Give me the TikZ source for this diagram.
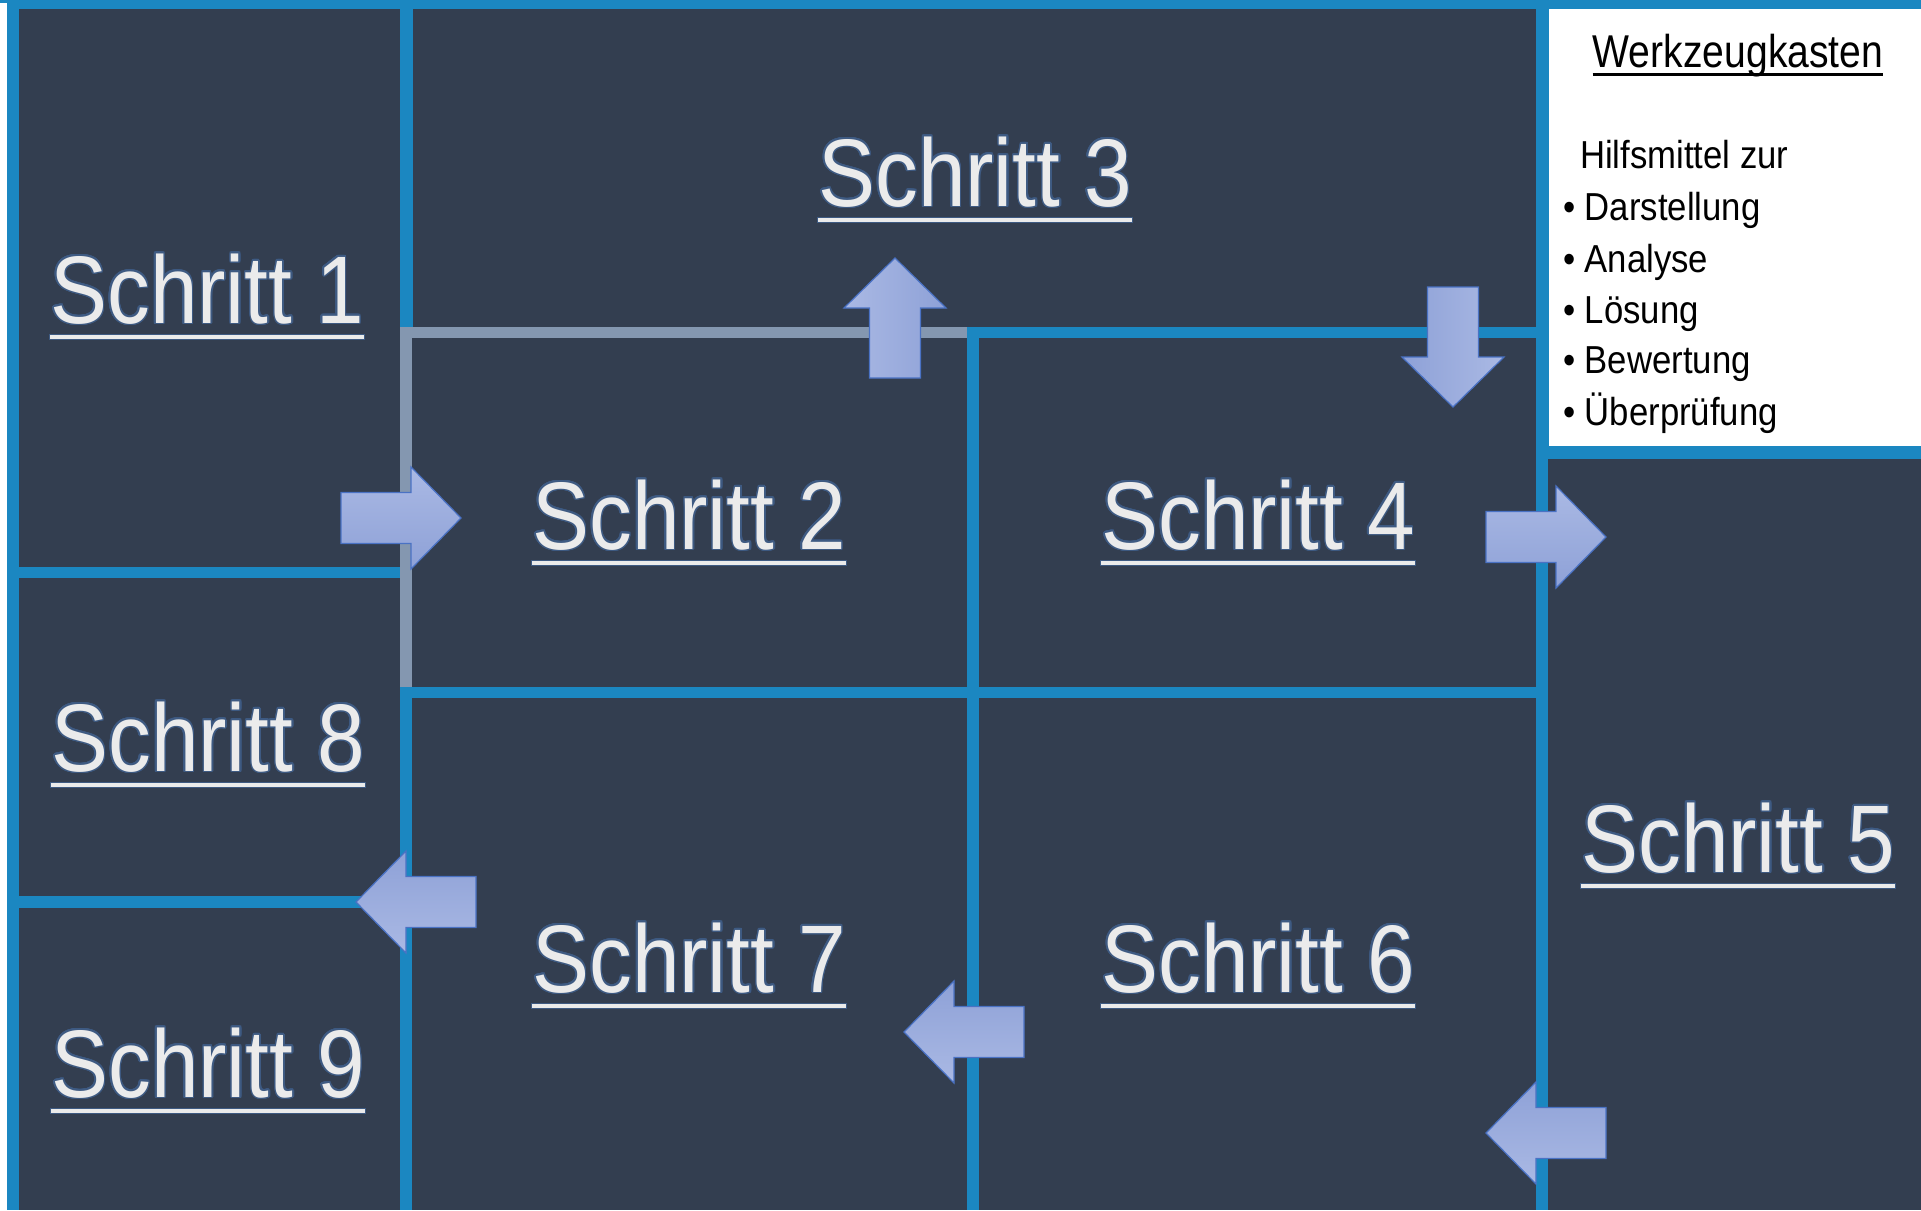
\documentclass[tikz,border=0pt]{standalone}
\usepackage{fontspec}
\usepackage{contour}
\usetikzlibrary{calc}
\newfontfamily\stepfont[FakeStretch=0.89]{Liberation Sans}
\newfontfamily\titlefont[FakeStretch=0.85]{Liberation Sans}
\definecolor{cellbg}{RGB}{51,62,80}
\definecolor{lineblue}{RGB}{27,135,193}
\definecolor{linegray}{RGB}{132,151,176}
\definecolor{textwhite}{RGB}{235,235,235}
\definecolor{textedge}{RGB}{62,90,130}
\definecolor{alight}{RGB}{170,185,228}
\definecolor{adark}{RGB}{142,161,215}
\definecolor{aedge}{RGB}{74,114,196}
\contourlength{1.5pt}
\contournumber{24}
\newcommand{\stepul}[1]{\draw[fill=textwhite, draw=textedge, line width=1pt] ($(#1.base west)+(-1,11)$) rectangle ($(#1.base east)+(1,16)$);}
\newcommand{\arrowR}[2]{\shade[arrowbox, top color=alight, bottom color=adark] (#1,#2) -- ++(-50,-51) -- ++(0,25.5) -- ++(-70,0) -- ++(0,51) -- ++(70,0) -- ++(0,25.5) -- cycle;}
\newcommand{\arrowL}[2]{\shade[arrowbox, top color=adark, bottom color=alight] (#1,#2) -- ++(50,-51) -- ++(0,25.5) -- ++(70,0) -- ++(0,51) -- ++(-70,0) -- ++(0,25.5) -- cycle;}
\newcommand{\arrowU}[2]{\shade[arrowbox, left color=alight, right color=adark] (#1,#2) -- ++(-51,50) -- ++(25.5,0) -- ++(0,70) -- ++(51,0) -- ++(0,-70) -- ++(25.5,0) -- cycle;}
\newcommand{\arrowD}[2]{\shade[arrowbox, left color=adark, right color=alight] (#1,#2) -- ++(-51,-50) -- ++(25.5,0) -- ++(0,-70) -- ++(51,0) -- ++(0,70) -- ++(25.5,0) -- cycle;}
\begin{document}
\begin{tikzpicture}[x=1pt,y=-1pt,
  steplabel/.style={text=textwhite, font=\stepfont\fontsize{96}{100}\selectfont, inner sep=0pt, outer sep=0pt, anchor=base},
  listitem/.style={text=black, font=\stepfont\fontsize{39}{44}\selectfont, inner sep=0pt, outer sep=0pt, anchor=base west},
  arrowbox/.style={draw=aedge, line width=1.2pt},
  cellfill/.style={fill=cellbg},
]
\useasboundingbox (0,0) rectangle (1921,1210);
% frame
\fill[lineblue] (0,0) rectangle (1921,1210);
\fill[white] (0,3) rectangle (7,1210);
% cells
\fill[cellfill] (19,9) rectangle (400,567);     % 1
\fill[cellfill] (19,578) rectangle (400,896);   % 8
\fill[cellfill] (19,908) rectangle (400,1210);  % 9
\fill[cellfill] (413,9) rectangle (1536,327);   % 3
\fill[cellfill] (412,338) rectangle (967,687);  % 2
\fill[cellfill] (979,338) rectangle (1536,687); % 4
\fill[cellfill] (412,698) rectangle (967,1210); % 7
\fill[cellfill] (979,698) rectangle (1536,1210);% 6
\fill[cellfill] (1548,459) rectangle (1921,1210);% 5
% grey border of step 2
\fill[linegray] (400,327) rectangle (967,338);
\fill[linegray] (400,338) rectangle (412,687);
% toolbox
\fill[white] (1549,9) rectangle (1921,446);
\node[text=black, font=\titlefont\fontsize{46}{50}\selectfont, inner sep=0pt, anchor=base] (wz) at (1738,67) {Werkzeugkasten};
\draw[black, line width=2.5pt] ($(wz.base west)+(0,7.5)$) -- ($(wz.base east)+(0,7.5)$);
\node[listitem] (h0) at (1580,168) {Hilfsmittel zur};
\node[listitem] (h1) at (1563,220) {• Darstellung};
\node[listitem] (h2) at (1563,272) {• Analyse};
\node[listitem] (h3) at (1563,323) {• Lösung};
\node[listitem] (h4) at (1563,373) {• Bewertung};
\node[listitem] (h5) at (1563,425) {• Überprüfung};
% step labels
\node[steplabel] (s1) at (207,323) {\contour{textedge}{Schritt 1}};
\node[steplabel] (s2) at (689,549) {\contour{textedge}{Schritt 2}};
\node[steplabel] (s3) at (975,206) {\contour{textedge}{Schritt 3}};
\node[steplabel] (s4) at (1258,549) {\contour{textedge}{Schritt 4}};
\node[steplabel] (s5) at (1738,872) {\contour{textedge}{Schritt 5}};
\node[steplabel] (s6) at (1258,992) {\contour{textedge}{Schritt 6}};
\node[steplabel] (s7) at (689,992) {\contour{textedge}{Schritt 7}};
\node[steplabel] (s8) at (208,771) {\contour{textedge}{Schritt 8}};
\node[steplabel] (s9) at (208,1097) {\contour{textedge}{Schritt 9}};
\stepul{s1}\stepul{s2}\stepul{s3}\stepul{s4}\stepul{s5}\stepul{s6}\stepul{s7}\stepul{s8}\stepul{s9}
% block arrows
\arrowR{461}{518}
\arrowU{895}{258}
\arrowD{1453}{407}
\arrowR{1606}{537}
\arrowL{1486}{1133}
\arrowL{904}{1032}
\arrowL{356}{902}
\end{tikzpicture}
\end{document}
